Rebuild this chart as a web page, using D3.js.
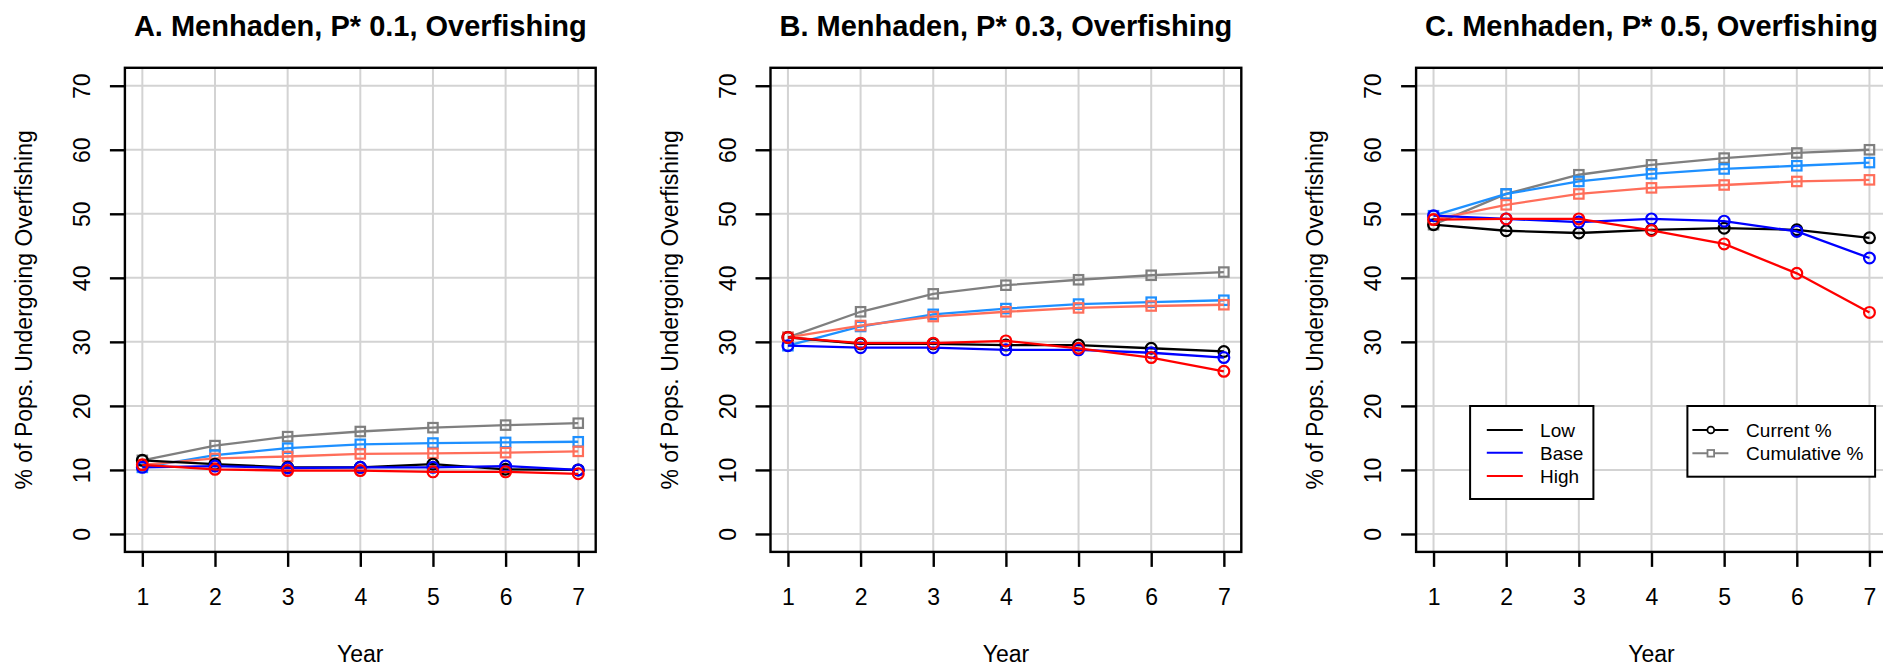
<!DOCTYPE html>
<html>
<head>
<meta charset="utf-8">
<script src="https://cdn.jsdelivr.net/npm/d3@7"></script>
<style>
  html, body { margin: 0; padding: 0; background: #ffffff; }
  svg { display: block; font-family: "Liberation Sans", Arial, Helvetica, sans-serif; }
</style>
</head>
<body>
<svg id="chart" width="1883" height="667"></svg>
<script>
// Years on the x axis and tick values on the y axis
const years = [1, 2, 3, 4, 5, 6, 7];
const yTicks = [0, 10, 20, 30, 40, 50, 60, 70];
const panelTitles = [
  "A. Menhaden, P* 0.1, Overfishing",
  "B. Menhaden, P* 0.3, Overfishing",
  "C. Menhaden, P* 0.5, Overfishing"
];

// Panel A (P* 0.1): % of populations undergoing overfishing
const aLowCurrent  = [11.5, 10.9, 10.4, 10.4, 10.9, 10.1, 10.0];
const aBaseCurrent = [10.4, 10.6, 10.3, 10.4, 10.4, 10.6, 10.0];
const aHighCurrent = [10.8, 10.1, 9.9, 9.9, 9.7, 9.7, 9.4];
const aLowCum  = [11.5, 13.8, 15.2, 16.0, 16.6, 17.0, 17.3];
const aBaseCum = [10.4, 12.3, 13.4, 14.0, 14.2, 14.3, 14.4];
const aHighCum = [10.8, 11.8, 12.1, 12.5, 12.6, 12.7, 12.9];

// Panel B (P* 0.3)
const bLowCurrent  = [30.7, 29.7, 29.7, 29.5, 29.5, 29.0, 28.5];
const bBaseCurrent = [29.4, 29.1, 29.1, 28.75, 28.75, 28.3, 27.55];
const bHighCurrent = [30.7, 29.8, 29.8, 30.15, 29.0, 27.55, 25.4];
const bLowCum  = [30.7, 34.7, 37.5, 38.85, 39.7, 40.4, 40.9];
const bBaseCum = [29.4, 32.4, 34.3, 35.2, 35.9, 36.2, 36.5];
const bHighCum = [30.7, 32.55, 33.95, 34.7, 35.3, 35.6, 35.8];

// Panel C (P* 0.5)
const cLowCurrent  = [48.3, 47.35, 47.0, 47.5, 47.75, 47.5, 46.25];
const cBaseCurrent = [49.7, 49.2, 48.7, 49.2, 48.85, 47.25, 43.1];
const cHighCurrent = [49.1, 49.2, 49.2, 47.4, 45.3, 40.7, 34.6];
const cLowCum  = [48.3, 53.1, 56.1, 57.65, 58.7, 59.5, 60.0];
const cBaseCum = [49.7, 53.1, 55.05, 56.25, 57.0, 57.5, 58.0];
const cHighCum = [49.1, 51.4, 53.1, 54.05, 54.5, 55.05, 55.3];

const scenarioNames = ["Low", "Base", "High"];
const currentColors = ["#000000", "#0000ff", "#ff0000"];
const cumulativeColors = ["#7f7f7f", "#1e90ff", "#ff6e5a"];

const panels = [
  { title: panelTitles[0], current: [aLowCurrent, aBaseCurrent, aHighCurrent], cum: [aLowCum, aBaseCum, aHighCum] },
  { title: panelTitles[1], current: [bLowCurrent, bBaseCurrent, bHighCurrent], cum: [bLowCum, bBaseCum, bHighCum] },
  { title: panelTitles[2], current: [cLowCurrent, cBaseCurrent, cHighCurrent], cum: [cLowCum, cBaseCum, cHighCum] }
];

const svg = d3.select("#chart");
const panelStep = 645.6;
const boxLeft0 = 124.9, boxWidth = 470.8;
const boxTop = 67.8, boxBottom = 551.9;
const gridColor = "#d3d3d3";

panels.forEach((p, i) => {
  const left = boxLeft0 + i * panelStep;
  const right = left + boxWidth;
  const g = svg.append("g");

  // R-style 4% padding around the data range
  const x = d3.scaleLinear().domain([0.76, 7.24]).range([left, right]);
  const y = d3.scaleLinear().domain([-2.8, 72.8]).range([boxBottom, boxTop]);

  // grid
  g.append("g").selectAll("line.h").data(yTicks).join("line")
    .attr("x1", left).attr("x2", right)
    .attr("y1", d => y(d)).attr("y2", d => y(d))
    .attr("stroke", gridColor).attr("stroke-width", 2);
  g.append("g").selectAll("line.v").data(years).join("line")
    .attr("y1", boxTop).attr("y2", boxBottom)
    .attr("x1", d => x(d)).attr("x2", d => x(d))
    .attr("stroke", gridColor).attr("stroke-width", 2);

  // axes
  const xAxis = d3.axisBottom(x).tickValues(years).tickSize(15).tickPadding(0).tickFormat(d3.format("d"));
  const gx = g.append("g").attr("transform", `translate(0,${boxBottom})`).call(xAxis);
  gx.select(".domain").remove();
  gx.selectAll(".tick line").attr("stroke", "#000").attr("stroke-width", 2.4);
  gx.selectAll(".tick text").attr("y", 53).attr("dy", null)
    .attr("font-size", 23).attr("fill", "#000")
    .attr("font-family", "'Liberation Sans', Arial, sans-serif");

  const yAxis = d3.axisLeft(y).tickValues(yTicks).tickSize(15).tickPadding(0).tickFormat(d3.format("d"));
  const gy = g.append("g").attr("transform", `translate(${left},0)`).call(yAxis);
  gy.select(".domain").remove();
  gy.selectAll(".tick line").attr("stroke", "#000").attr("stroke-width", 2.4);
  gy.selectAll(".tick text")
    .attr("x", null).attr("dy", null)
    .attr("transform", "translate(-35,0) rotate(-90)")
    .attr("text-anchor", "middle")
    .attr("font-size", 23).attr("fill", "#000")
    .attr("font-family", "'Liberation Sans', Arial, sans-serif");

  // series lines and markers
  const line = d3.line().x((d, k) => x(years[k])).y(d => y(d));
  const drawSeries = (values, color, shape) => {
    g.append("path").datum(values)
      .attr("d", line).attr("fill", "none")
      .attr("stroke", color).attr("stroke-width", 2.3);
    if (shape === "circle") {
      g.append("g").selectAll("circle").data(values).join("circle")
        .attr("cx", (d, k) => x(years[k])).attr("cy", d => y(d)).attr("r", 5.4)
        .attr("fill", "none").attr("stroke", color).attr("stroke-width", 2.2);
    } else {
      g.append("g").selectAll("rect").data(values).join("rect")
        .attr("x", (d, k) => x(years[k]) - 4.7).attr("y", d => y(d) - 4.7)
        .attr("width", 9.4).attr("height", 9.4)
        .attr("fill", "none").attr("stroke", color).attr("stroke-width", 2.2);
    }
  };
  p.cum.forEach((vals, s) => drawSeries(vals, cumulativeColors[s], "square"));
  p.current.forEach((vals, s) => drawSeries(vals, currentColors[s], "circle"));

  // box
  g.append("rect").attr("x", left).attr("y", boxTop)
    .attr("width", boxWidth).attr("height", boxBottom - boxTop)
    .attr("fill", "none").attr("stroke", "#000").attr("stroke-width", 2.4);

  // titles and axis labels
  const cx = (left + right) / 2;
  g.append("text").attr("x", cx).attr("y", 36)
    .attr("text-anchor", "middle").attr("font-size", 29).attr("font-weight", "bold")
    .text(p.title);
  g.append("text").attr("x", cx).attr("y", 662)
    .attr("text-anchor", "middle").attr("font-size", 23)
    .text("Year");
  g.append("text")
    .attr("transform", `translate(${left - 93},${(boxTop + boxBottom) / 2}) rotate(-90)`)
    .attr("text-anchor", "middle").attr("font-size", 23)
    .text("% of Pops. Undergoing Overfishing");

  // legends in the last panel
  if (i === 2) {
    const lg1 = g.append("g");
    lg1.append("rect").attr("x", left + 54).attr("y", 406)
      .attr("width", 123.3).attr("height", 93)
      .attr("fill", "#fff").attr("stroke", "#000").attr("stroke-width", 2);
    const rows1 = [430, 452.7, 476];
    scenarioNames.forEach((name, s) => {
      lg1.append("line").attr("x1", left + 70.7).attr("x2", left + 106.7)
        .attr("y1", rows1[s]).attr("y2", rows1[s])
        .attr("stroke", currentColors[s]).attr("stroke-width", 2);
      lg1.append("text").attr("x", left + 124).attr("y", rows1[s] + 6.8)
        .attr("font-size", 19).text(name);
    });

    const lg2 = g.append("g");
    lg2.append("rect").attr("x", left + 271.3).attr("y", 406)
      .attr("width", 187.7).attr("height", 70.7)
      .attr("fill", "#fff").attr("stroke", "#000").attr("stroke-width", 2);
    const rows2 = [430, 453.3];
    const kinds = [
      { label: "Current %", color: "#000000", shape: "circle" },
      { label: "Cumulative %", color: "#7f7f7f", shape: "square" }
    ];
    kinds.forEach((k, s) => {
      lg2.append("line").attr("x1", left + 276.3).attr("x2", left + 312.3)
        .attr("y1", rows2[s]).attr("y2", rows2[s])
        .attr("stroke", k.color).attr("stroke-width", 2);
      if (k.shape === "circle") {
        lg2.append("circle").attr("cx", left + 294.7).attr("cy", rows2[s]).attr("r", 3.4)
          .attr("fill", "#fff").attr("stroke", k.color).attr("stroke-width", 1.8);
      } else {
        lg2.append("rect").attr("x", left + 294.7 - 3.3).attr("y", rows2[s] - 3.3)
          .attr("width", 6.6).attr("height", 6.6)
          .attr("fill", "#fff").attr("stroke", k.color).attr("stroke-width", 1.8);
      }
      lg2.append("text").attr("x", left + 330).attr("y", rows2[s] + 6.8)
        .attr("font-size", 19).text(k.label);
    });
  }
});
</script>
</body>
</html>
